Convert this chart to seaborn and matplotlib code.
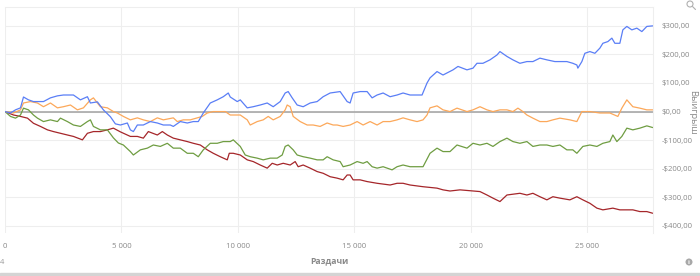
import numpy as np
import pandas as pd
import seaborn as sns
import matplotlib
matplotlib.use("Agg")
import matplotlib.pyplot as plt
from matplotlib.ticker import FuncFormatter, FixedLocator
from matplotlib.patches import Rectangle, Ellipse
from matplotlib.lines import Line2D

# ---------------- data ----------------
blue_hands = [0, 236, 450, 665, 794, 1008, 1223, 1652, 1952, 2252, 2510, 2939, 3239, 3539, 3668, 3968,
              4226, 4526, 4740, 4955, 5255, 5384, 5513, 5684, 5942, 6242, 6542, 6800, 7100, 7229, 7529,
              7829, 8087, 8301, 8516, 8816, 9116, 9374, 9589, 9674, 9975, 10104, 10404, 10661, 10961,
              11261, 11519, 11819, 12033, 12162, 12334, 12548, 12806, 13106, 13406, 13664, 13964, 14393,
              14694, 14822, 14951, 15252, 15552, 15767, 15981, 16239, 16539, 16839, 17096, 17396, 17911,
              18125, 18254, 18554, 18812, 19241, 19455, 19841, 20099, 20270, 20528, 20828, 21128, 21257,
              21557, 21814, 22114, 22415, 22672, 22973, 23273, 23616, 24131, 24387, 24560, 24603, 24775,
              24904, 25119, 25334, 25548, 25677, 25892, 26063, 26192, 26406, 26535, 26707, 26921, 27136,
              27351, 27565, 27822]
blue_profit = [0, -5, 6, 13, 51, 41, 35, 35, 48, 55, 58, 58, 41, 52, 30, 34,
               6, -18, -43, -47, -40, -64, -70, -47, -47, -35, -40, -47, -47, -52, -35,
               -40, -35, -35, -5, 30, 41, 52, 65, 51, 35, 41, 13, 17, 23,
               30, 17, 35, 65, 70, 48, 23, 17, 30, 35, 52, 65, 70,
               35, 30, 65, 70, 70, 48, 58, 65, 52, 58, 65, 58, 58,
               100, 118, 140, 128, 146, 158, 146, 152, 169, 169, 181, 198, 210,
               193, 181, 169, 175, 175, 187, 181, 175, 175, 169, 163, 152, 175,
               204, 210, 204, 222, 239, 245, 257, 239, 239, 286, 298, 286, 292,
               280, 298, 300]

orange_hands = [0, 365, 665, 794, 1094, 1394, 1652, 1952, 2252, 2510, 2810, 3110, 3368, 3668, 3797,
                3968, 4097, 4397, 4655, 4826, 5084, 5384, 5684, 5942, 6242, 6542, 6800, 7229, 7400,
                7658, 7958, 8258, 8473, 8687, 8945, 9460, 9674, 9803, 10104, 10404, 10532, 10832,
                11090, 11304, 11519, 11819, 12033, 12119, 12248, 12377, 12677, 12977, 13235, 13535,
                13835, 14093, 14264, 14522, 14822, 15123, 15380, 15681, 15981, 16239, 16539, 16839,
                17096, 17396, 17696, 17954, 18125, 18254, 18554, 18812, 19112, 19412, 19841, 20099,
                20399, 20699, 20957, 21257, 21557, 21814, 22029, 22243, 22415, 22672, 22973, 23273,
                23530, 23831, 24260, 24560, 24775, 25119, 25548, 25977, 26321, 26492, 26707, 26964,
                27265, 27565, 27822]
orange_profit = [0, -5, 6, 30, 35, 30, 17, 30, 13, 17, 23, 6, 13, 41, 48,
                 30, 17, 13, 0, -5, -17, -29, -22, -29, -35, -22, -29, -22, -35,
                 -29, -29, -22, -17, -5, 0, 0, -12, -12, -12, -29, -47, -35,
                 -29, -17, -29, -17, 6, 23, 17, -17, -35, -47, -47, -52,
                 -40, -47, -47, -52, -47, -35, -47, -35, -47, -35, -35, -29,
                 -22, -29, -35, -29, -12, 13, 20, 6, 0, 12, 0, 6,
                 17, 6, 0, 6, 6, 0, 12, 0, -12, -23, -35, -35,
                 -29, -23, -29, -35, 0, 0, -5, -5, -17, 12, 41, 17,
                 12, 6, 6]

green_hands = [0, 236, 450, 665, 794, 1008, 1223, 1394, 1652, 1952, 2252, 2381, 2681, 2939, 3239,
               3539, 3668, 3797, 4097, 4397, 4655, 4869, 5084, 5384, 5513, 5813, 6113, 6371, 6671,
               6971, 7229, 7529, 7829, 8087, 8301, 8516, 8816, 9116, 9374, 9674, 9803, 10104, 10318,
               10532, 10832, 11090, 11390, 11690, 11905, 12033, 12162, 12377, 12548, 12806, 13106,
               13406, 13664, 13835, 14093, 14393, 14522, 14822, 15123, 15380, 15552, 15767, 15981,
               16239, 16624, 16839, 17096, 17396, 17954, 18254, 18554, 18812, 19112, 19412, 19841,
               20099, 20399, 20699, 20957, 21257, 21557, 21814, 22114, 22415, 22672, 22973, 23273,
               23530, 23831, 24131, 24387, 24560, 24818, 25119, 25420, 25677, 25977, 26106, 26278,
               26492, 26707, 26964, 27265, 27565, 27822]
green_profit = [0, -17, -23, -12, 12, 6, -12, -23, -35, -29, -35, -23, -35, -47, -52,
                -35, -29, -52, -64, -64, -92, -110, -117, -140, -152, -134, -128, -117, -122,
                -111, -128, -128, -146, -146, -158, -134, -111, -111, -105, -105, -99, -122, -152,
                -158, -163, -169, -163, -163, -152, -122, -117, -134, -152, -158, -163,
                -169, -169, -158, -169, -175, -193, -187, -175, -181, -175, -193, -198,
                -193, -204, -193, -187, -193, -193, -146, -128, -140, -140, -117, -128,
                -111, -117, -111, -122, -105, -93, -105, -111, -105, -122, -117, -117,
                -122, -117, -134, -134, -146, -122, -117, -122, -111, -105, -82, -105,
                -87, -58, -64, -58, -50, -56]

red_hands = [0, 365, 665, 965, 1223, 1523, 1823, 2081, 2381, 2681, 2939, 3325, 3539, 3797, 4097,
             4397, 4655, 4955, 5384, 5684, 5942, 6156, 6542, 6757, 6971, 7229, 7529, 7829, 8087,
             8387, 8687, 8945, 9245, 9546, 9632, 9803, 10104, 10404, 10661, 10961, 11261, 11476,
             11690, 11948, 12248, 12462, 12591, 12806, 13106, 13406, 13664, 13964, 14264, 14522,
             14694, 14822, 14951, 15252, 15552, 15981, 16539, 16839, 17096, 17396, 17954, 18554,
             18812, 19112, 19541, 20399, 20699, 20957, 21257, 21557, 22114, 22415, 22672, 22973,
             23273, 23530, 23831, 24260, 24560, 24818, 25119, 25420, 25677, 26106, 26406, 26964,
             27265, 27565, 27822]
red_profit = [0, -12, -17, -23, -41, -52, -64, -70, -76, -82, -87, -99, -76, -70, -70,
              -64, -58, -71, -87, -87, -93, -70, -82, -70, -82, -93, -99, -105, -111,
              -117, -134, -146, -158, -169, -146, -146, -152, -169, -175, -187, -198, -181,
              -187, -181, -187, -175, -193, -187, -198, -210, -216, -228, -233, -239,
              -222, -222, -239, -239, -245, -251, -257, -251, -251, -257, -263, -268,
              -274, -278, -274, -280, -292, -303, -315, -292, -286, -292, -286, -298,
              -309, -298, -303, -309, -298, -309, -321, -338, -344, -338, -344, -344,
              -350, -350, -356]

series_names = ["blue", "orange", "green", "red"]
series_colors = ["#5a7ef6", "#fca85a", "#6f9d42", "#a5262a"]

x_ticks = [0, 5000, 10000, 15000, 20000, 25000]
y_ticks = [-400, -300, -200, -100, 0, 100, 200, 300]
x_label = "Раздачи"
y_label = "Выигрыш"

# ---------------- build long table ----------------
frames = []
for name, hx, py in [("blue", blue_hands, blue_profit), ("orange", orange_hands, orange_profit),
                     ("green", green_hands, green_profit), ("red", red_hands, red_profit)]:
    frames.append(pd.DataFrame({"hands": hx, "profit": py, "series": name}))
df = pd.concat(frames, ignore_index=True)

# ---------------- plotting ----------------
sns.set_theme(style="white")
plt.rcParams["font.family"] = ["Open Sans", "DejaVu Sans"]

W, H = 700, 276
fig = plt.figure(figsize=(W / 100, H / 100), dpi=100)
ax = fig.add_axes([5 / W, 1 - 233 / H, (653 - 5) / W, (233 - 7) / H])

ax.axhline(0, color="#a8a8a8", lw=1.2, zorder=1.5)

sns.lineplot(data=df, x="hands", y="profit", hue="series", hue_order=series_names[::-1],
             palette=dict(zip(series_names, series_colors)), estimator=None, sort=False,
             lw=0.9, legend=False, ax=ax, zorder=2)

ax.set_xlim(0, 27830)
ax.set_ylim(-425, 366)

ax.xaxis.set_major_locator(FixedLocator(x_ticks))
ax.yaxis.set_major_locator(FixedLocator(y_ticks))
ax.xaxis.set_major_formatter(FuncFormatter(lambda v, p: f"{int(v):,}".replace(",", " ")))
ax.yaxis.set_major_formatter(FuncFormatter(
    lambda v, p: ("-" if v < 0 else "") + f"${abs(int(v))},00"))
ax.yaxis.tick_right()
ax.tick_params(axis="both", length=0, labelsize=5.6, colors="#8a8a8a")
ax.tick_params(axis="y", pad=6)
ax.tick_params(axis="x", pad=7)

ax.grid(True, color="#eeeeee", lw=0.8)
ax.set_axisbelow(True)
for side in ["left", "bottom"]:
    ax.spines[side].set_visible(False)
for side in ["top", "right"]:
    ax.spines[side].set_color("#eeeeee")
    ax.spines[side].set_linewidth(0.8)

ax.set_xlabel("")
ax.set_ylabel("")
fig.text(329 / W, 1 - 261 / H, x_label, ha="center", va="center",
         fontsize=6.2, color="#8a8a8a", fontweight="bold")
fig.text(693 / W, 1 - 112 / H, y_label, ha="center", va="center",
         rotation=270, fontsize=6.8, color="#8a8a8a")

# bottom band and small icons (drawn as shapes)
fig.patches.append(Rectangle((0, 0), 1, 3.5 / H, transform=fig.transFigure,
                             color="#d4d4d4", zorder=0))
# info icon
fig.patches.append(Ellipse((689 / W, 1 - 262 / H), 7 / W, 7 / H, transform=fig.transFigure,
                           facecolor="#a8a8a8", edgecolor="none"))
fig.text(689 / W, 1 - 262 / H, "i", ha="center", va="center", fontsize=4.5,
         color="white", fontweight="bold")
# magnifier icon
fig.patches.append(Ellipse((690 / W, 1 - 4 / H), 6 / W, 6 / H, transform=fig.transFigure,
                           facecolor="none", edgecolor="#b0b0b0", lw=0.8))
fig.lines.append(Line2D([692.5 / W, 695.5 / W], [1 - 6.5 / H, 1 - 9.5 / H],
                        transform=fig.transFigure, color="#b0b0b0", lw=0.8))
# small mark bottom-left
fig.text(2 / W, 1 - 263 / H, "4", ha="center", va="center",
         fontsize=5.5, color="#9a9a9a")

fig.savefig("out.png", dpi=100)
